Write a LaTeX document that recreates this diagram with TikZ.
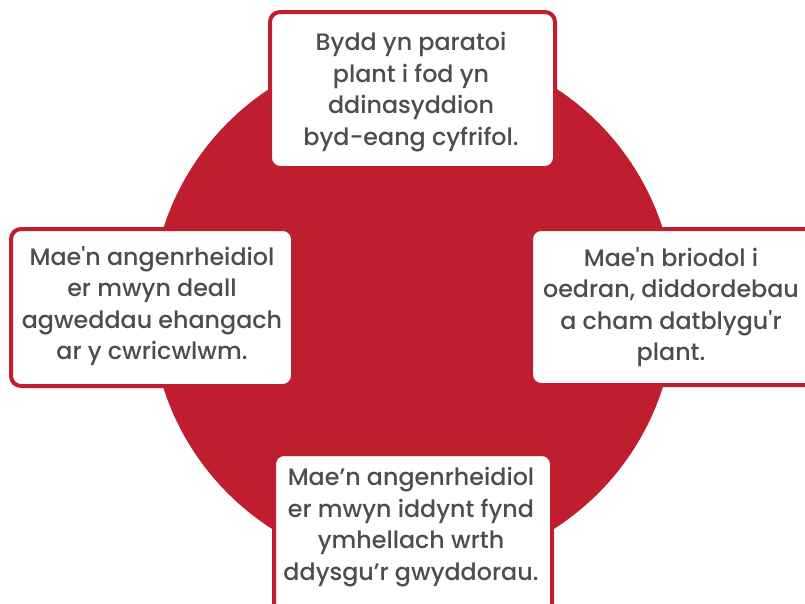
\documentclass[tikz,border=0pt]{standalone}
\usepackage{fontspec}
\setmainfont{Poppins}[UprightFont=* Medium, Ligatures=TeXOff]
\definecolor{cred}{HTML}{BE1E2D}
\definecolor{ctext}{HTML}{4D4D4D}
\tikzset{
  card/.style={draw=cred, line width=4pt, fill=white, rounded corners=10pt},
  cardtext/.style={text=ctext, align=center, inner sep=0pt, font=\fontsize{23.8}{31.5}\selectfont}
}
\begin{document}
\begin{tikzpicture}[x=1pt,y=-1pt]
\useasboundingbox (0,0) rectangle (805,603);
\fill[cred] (413,308) circle (262);
\draw[card] (270,12) rectangle (555,168);
\draw[card] (11,229) rectangle (293,386);
\draw[card] (531,229) rectangle (840,385);
\draw[card] (274,454) rectangle (552,650);
\node[cardtext] (top) at (411,92) {Bydd yn paratoi\\plant i fod yn\\ddinasyddion\\byd-eang cyfrifol.};
\node[cardtext] (left) at (152,306) {Mae'n angenrheidiol\\er mwyn deall\\agweddau ehangach\\ar y cwricwlwm.};
\node[cardtext] (right) at (671,307) {Mae'n briodol i\\oedran, diddordebau\\a cham datblygu'r\\plant.};
\node[cardtext] (bottom) at (411,527) {Mae’n angenrheidiol\\er mwyn iddynt fynd\\ymhellach wrth\\ddysgu’r gwyddorau.};
\end{tikzpicture}
\end{document}
